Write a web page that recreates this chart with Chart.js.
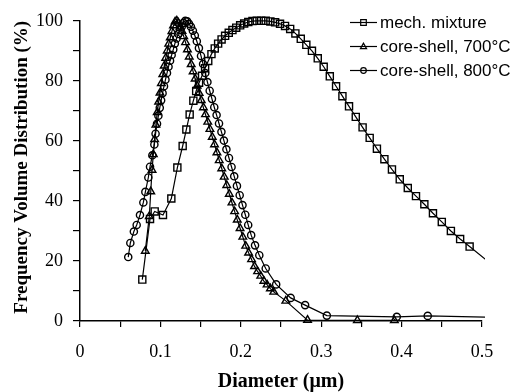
<!DOCTYPE html>
<html>
<head>
<meta charset="utf-8">
<script src="https://cdn.jsdelivr.net/npm/chart.js@4.4.1/dist/chart.umd.min.js"></script>
<style>
  html, body { margin: 0; padding: 0; background: #fff; }
  canvas { display: block; }
</style>
</head>
<body>
<canvas id="psdChart" width="517" height="392"></canvas>
<script>
// Particle size distributions
// diameter in um, frequency in % of the maximum

var mechD = [0.0775, 0.0871, 0.0929, 0.1032, 0.1136, 0.1211, 0.1277, 0.1323, 0.1364, 0.1410,
    0.1445, 0.1481, 0.1518, 0.1556, 0.1595, 0.1635, 0.1676, 0.1718, 0.1761, 0.1805,
    0.1850, 0.1896, 0.1943, 0.1992, 0.2042, 0.2093, 0.2145, 0.2199, 0.2254, 0.2310,
    0.2368, 0.2427, 0.2488, 0.2550, 0.2614, 0.2679, 0.2746, 0.2815, 0.2885, 0.2957,
    0.3031, 0.3107, 0.3185, 0.3264, 0.3346, 0.3430, 0.3515, 0.3603, 0.3693, 0.3786,
    0.3880, 0.3977, 0.4077, 0.4179, 0.4283, 0.4390, 0.4500, 0.4613, 0.4728, 0.4846, 0.5120];
var mechV = [13.8, 34.0, 36.5, 35.3, 40.8, 51.1, 58.3, 63.8, 68.8, 73.4,
    76.6, 79.4, 81.7, 84.2, 86.6, 88.9, 90.8, 92.4, 93.8, 95.0,
    96.0, 96.9, 97.7, 98.5, 99.1, 99.6, 99.9, 100, 100, 100,
    99.8, 99.5, 99.0, 98.3, 97.3, 95.8, 94.0, 92.0, 90.0, 87.5,
    84.7, 81.5, 78.2, 74.9, 71.5, 68.0, 64.5, 61.0, 57.4, 53.9,
    50.5, 47.2, 44.3, 41.6, 38.9, 35.9, 33.0, 30.0, 27.3, 24.8, 18.9];

var cs700D = [0.0812, 0.0862, 0.0880, 0.0896, 0.0912,
    0.0928, 0.0944, 0.0961, 0.0978, 0.0995, 0.1012, 0.1030, 0.1048, 0.1066, 0.1085,
    0.1104, 0.1123, 0.1143, 0.1163, 0.1183, 0.1204, 0.1225, 0.1246, 0.1268, 0.1290,
    0.1313, 0.1336, 0.1359, 0.1383, 0.1407, 0.1432, 0.1457, 0.1482, 0.1508, 0.1535,
    0.1561, 0.1589, 0.1616, 0.1645, 0.1673, 0.1703, 0.1732, 0.1763, 0.1794, 0.1825,
    0.1857, 0.1890, 0.1923, 0.1956, 0.1991, 0.2025, 0.2061, 0.2097, 0.2134, 0.2171,
    0.2209, 0.2248, 0.2287, 0.2327, 0.2368, 0.2410,
    0.2560, 0.2830, 0.3450, 0.3910];
var cs700V = [23.3, 34.9, 43.1, 50.3, 55.5,
    60.5, 65.3, 69.5, 73.0, 76.0, 79.2, 82.2, 85.0, 87.6, 90.0,
    92.3, 94.4, 96.5, 98.4, 99.7, 100, 99.3, 98.0, 96.6, 94.8,
    92.8, 90.4, 88.0, 85.5, 83.1, 80.7, 78.3, 75.9, 73.5, 71.1,
    68.8, 66.3, 63.9, 61.3, 58.8, 56.1, 53.5, 50.8, 48.0, 45.2,
    42.3, 39.4, 36.5, 33.7, 30.9, 28.0, 25.0, 22.7, 20.5, 18.2,
    16.5, 15.0, 13.3, 12.1, 10.8, 9.7,
    6.7, 0.3, 0.2, 0.2];

var cs800D = [0.0600, 0.0626, 0.0670, 0.0705, 0.0746, 0.0788, 0.0813, 0.0850, 0.0871, 0.0900,
    0.0925, 0.0940, 0.0958,
    0.0975, 0.0992, 0.1009, 0.1027, 0.1045, 0.1063, 0.1082, 0.1101, 0.1120, 0.1140,
    0.1160, 0.1180, 0.1201, 0.1222, 0.1243, 0.1265, 0.1287, 0.1310, 0.1333, 0.1356,
    0.1380, 0.1404, 0.1428, 0.1453, 0.1479, 0.1505, 0.1531, 0.1558, 0.1585, 0.1613,
    0.1641, 0.1670, 0.1699, 0.1729, 0.1759, 0.1790, 0.1821, 0.1853, 0.1885, 0.1918,
    0.1952, 0.1986, 0.2021, 0.2056, 0.2092, 0.2129,
    0.2177, 0.2230, 0.2310, 0.2440, 0.2620, 0.2800, 0.3070, 0.3940, 0.4325, 0.5300];
var cs800V = [21.3, 26.0, 29.8, 32.0, 35.3, 39.5, 43.0, 47.8, 51.4, 55.2,
    58.8, 62.4, 65.7,
    68.4, 71.0, 73.5, 75.9, 78.2, 80.4, 82.6, 84.7, 86.7, 88.6,
    90.4, 92.4, 94.1, 95.6, 96.9, 98.0, 99.3, 100, 99.8, 99.0,
    98.0, 96.7, 95.1, 93.2, 90.9, 88.3, 85.6, 82.6, 79.6, 76.7,
    74.0, 71.2, 68.6, 65.8, 63.0, 60.1, 57.2, 54.3, 51.3, 48.2,
    45.0, 41.9, 38.6, 35.4, 32.0, 28.6,
    25.2, 21.9, 17.5, 12.2, 7.7, 5.3, 1.8, 1.4, 1.7, 1.1];

var seriesNames = ["mech. mixture", "core-shell, 700\u00b0C", "core-shell, 800\u00b0C"];
var xTickLabels = ["0", "0.1", "0.2", "0.3", "0.4", "0.5"];
var yTickLabels = ["0", "20", "40", "60", "80", "100"];

function toPoints(xs, ys) {
    return xs.map(function (x, i) { return {x: x, y: ys[i]}; });
}

function makeSet(label, xs, ys, style, radius) {
    return {
        label: label,
        data: toPoints(xs, ys),
        showLine: true,
        tension: 0,
        borderColor: "#000",
        borderWidth: 1.2,
        pointStyle: style,
        pointRadius: radius,
        pointBorderColor: "#000",
        pointBackgroundColor: "rgba(0,0,0,0)",
        pointBorderWidth: 1.4,
        clip: {left: 8, top: 8, right: 3, bottom: 8}
    };
}

// small hollow markers for the legend
function drawMarker(ctx, style, x, y, r) {
    ctx.beginPath();
    if (style === "rect") {
        ctx.rect(x - r, y - r, 2 * r, 2 * r);
    } else if (style === "triangle") {
        ctx.moveTo(x, y - r * 1.2);
        ctx.lineTo(x - r * 1.1, y + r * 0.75);
        ctx.lineTo(x + r * 1.1, y + r * 0.75);
        ctx.closePath();
    } else {
        ctx.arc(x, y, r, 0, Math.PI * 2);
    }
    ctx.stroke();
}

// legend sits inside the plot, top right
var insideLegend = {
    id: "insideLegend",
    afterDraw: function (chart) {
        var ctx = chart.ctx;
        ctx.save();
        ctx.strokeStyle = "#000";
        ctx.fillStyle = "#000";
        ctx.lineWidth = 1.2;
        ctx.font = '17px "Liberation Sans", Arial, sans-serif';
        ctx.textBaseline = "middle";
        chart.data.datasets.forEach(function (ds, i) {
            var y = 22.5 + i * 24;
            ctx.beginPath();
            ctx.moveTo(350, y);
            ctx.lineTo(377, y);
            ctx.stroke();
            drawMarker(ctx, ds.pointStyle, 363.5, y, 2.8);
            ctx.fillText(ds.label, 380, y + 1);
        });
        ctx.restore();
    }
};

var serif = "'Liberation Serif', 'Times New Roman', serif";

var psdCtx = document.getElementById("psdChart").getContext("2d");
var psdChart = new Chart(psdCtx, {
    type: "scatter",
    data: {
        datasets: [
            makeSet(seriesNames[0], mechD, mechV, "rect", 5),
            makeSet(seriesNames[1], cs700D, cs700V, "triangle", 4.4),
            makeSet(seriesNames[2], cs800D, cs800V, "circle", 3.6)
        ]
    },
    options: {
        responsive: false,
        animation: false,
        devicePixelRatio: 1,
        layout: {padding: {top: 19, right: 35, bottom: 0, left: 0}},
        plugins: {
            legend: {display: false},
            tooltip: {enabled: false}
        },
        scales: {
            x: {
                type: "linear",
                min: 0,
                max: 0.5,
                afterFit: function (scale) { scale.height = 71; },
                border: {color: "#000", width: 1.5},
                grid: {drawOnChartArea: false, drawTicks: true, tickLength: 6, color: "#000", lineWidth: 1.2},
                ticks: {
                    stepSize: 0.05,
                    autoSkip: false,
                    maxRotation: 0,
                    padding: 14,
                    color: "#000",
                    font: {family: serif, size: 18},
                    callback: function (v) {
                        var k = Math.round(v * 100);
                        return k % 10 === 0 ? xTickLabels[k / 10] : "";
                    }
                },
                title: {
                    display: true,
                    text: "Diameter (\u03bcm)",
                    color: "#000",
                    font: {family: serif, size: 20, weight: "bold", lineHeight: 1},
                    padding: {top: 0, bottom: 0}
                }
            },
            y: {
                min: 0,
                max: 100,
                afterFit: function (scale) { scale.width = 80; },
                border: {color: "#000", width: 1.5},
                grid: {drawOnChartArea: false, drawTicks: true, tickLength: 7, color: "#000", lineWidth: 1.2},
                ticks: {
                    stepSize: 10,
                    padding: 10,
                    color: "#000",
                    font: {family: serif, size: 18},
                    callback: function (v) {
                        var k = Math.round(v);
                        return k % 20 === 0 ? yTickLabels[k / 20] : "";
                    }
                },
                title: {
                    display: true,
                    text: "Frequency Volume Distribution (%)",
                    align: "end",
                    color: "#000",
                    font: {family: serif, size: 19, weight: "bold", lineHeight: 1},
                    padding: {top: 13, bottom: 0}
                }
            }
        }
    },
    plugins: [insideLegend]
});
</script>
</body>
</html>
